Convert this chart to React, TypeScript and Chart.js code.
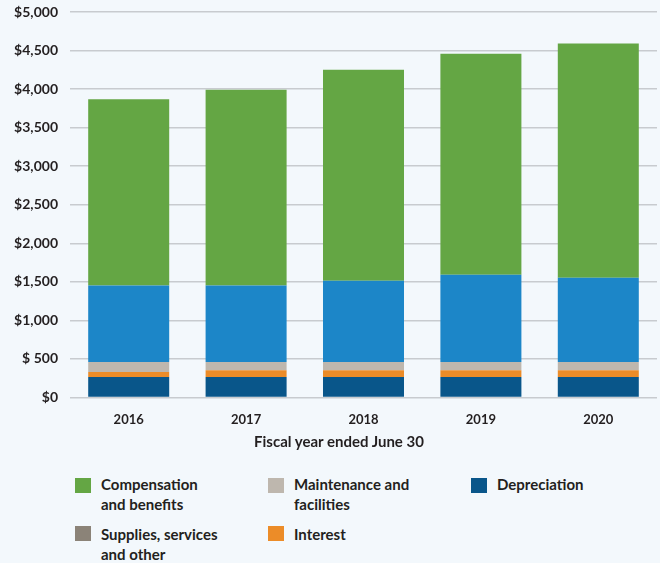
import React, { useEffect, useRef } from "react";
import { Chart, registerables } from "chart.js";

Chart.register(...registerables);

const years = ["2016", "2017", "2018", "2019", "2020"];
const depreciation = [265, 265, 265, 265, 265];
const interest = [65, 90, 90, 90, 90];
const maintenance = [130, 105, 105, 105, 105];
const supplies = [994, 994, 1053, 1131, 1092];
const compensation = [2413, 2539, 2737, 2867, 3039];

const yTicks = [0, 500, 1000, 1500, 2000, 2500, 3000, 3500, 4000, 4500, 5000];
const xTitle = "Fiscal year ended June 30";

const seriesNames = [
  "Depreciation",
  "Interest",
  "Maintenance and facilities",
  "Supplies, services and other",
  "Compensation and benefits",
];
const barColors = ["#09568a", "#ec8c28", "#beb7ae", "#1c86c8", "#64a644"];

// legend: order, label lines, swatch colour
const legendLabels = [
  ["Compensation", "and benefits"],
  ["Maintenance and", "facilities"],
  ["Depreciation"],
  ["Supplies, services", "and other"],
  ["Interest"],
];
const legendColors = ["#64a644", "#beb7ae", "#09568a", "#8b8378", "#ec8c28"];

const FONT = "Lato, 'Open Sans', sans-serif";
const TEXT = "#231f20";

export default function App() {
  const ref = useRef<HTMLCanvasElement | null>(null);

  useEffect(() => {
    document.body.style.margin = "0";
    const values = [depreciation, interest, maintenance, supplies, compensation];
    const chart = new Chart(ref.current as HTMLCanvasElement, {
      type: "bar",
      data: {
        labels: years,
        datasets: values.map((v, i) => ({
          label: seriesNames[i],
          data: v,
          backgroundColor: barColors[i],
          borderWidth: 0,
          barPercentage: 0.69,
          categoryPercentage: 1,
        })),
      },
      options: {
        animation: false,
        responsive: true,
        maintainAspectRatio: false,
        layout: { padding: { top: 12, right: 3, left: 0, bottom: 0 } },
        plugins: { legend: { display: false }, tooltip: { enabled: false } },
        scales: {
          x: {
            stacked: true,
            grid: { display: false },
            border: { display: false },
            ticks: {
              color: TEXT,
              padding: 7,
              font: { family: FONT, size: 13, weight: "bold" },
            },
            afterFit: (s: any) => {
              s.height = 42.5;
            },
          },
          y: {
            stacked: true,
            min: 0,
            max: 5000,
            afterBuildTicks: (s: any) => {
              s.ticks = yTicks.map((v) => ({ value: v }));
            },
            grid: { color: "#c8cbcf", lineWidth: 1.5, drawTicks: false },
            border: { display: false },
            ticks: {
              color: TEXT,
              padding: 12,
              font: { family: FONT, size: 14, weight: "bold" },
              callback: (v: any) => {
                const n = Number(v);
                if (n === 0) return "$0";
                if (n === 500) return "$ 500";
                return "$" + n.toLocaleString("en-US");
              },
            },
            afterFit: (s: any) => {
              s.width = 70;
              s.paddingTop = 0;
              s.paddingBottom = 0;
            },
          },
        },
      },
    });
    return () => chart.destroy();
  }, []);

  const colX = [75, 268, 471];
  const rowY = [478, 526];
  const textOff = [-4, -2];

  return (
    <div
      style={{
        position: "fixed",
        left: 0,
        top: 0,
        width: 660,
        height: 563,
        background: "#f3f8fc",
        fontFamily: FONT,
        color: TEXT,
        overflow: "hidden",
      }}
    >
      <div style={{ position: "absolute", left: 0, top: 0, width: 660, height: 440 }}>
        <canvas ref={ref} />
      </div>
      <div
        style={{
          position: "absolute",
          left: 189,
          top: 431,
          width: 300,
          textAlign: "center",
          fontSize: 15,
          fontWeight: 700,
          lineHeight: "20px",
        }}
      >
        {xTitle}
      </div>
      {legendLabels.map((lines, i) => {
        const x = colX[i % 3];
        const r = Math.floor(i / 3);
        const y = rowY[r];
        return (
          <div key={i}>
            <div
              style={{
                position: "absolute",
                left: x,
                top: y,
                width: 16,
                height: 15,
                background: legendColors[i],
              }}
            />
            <div
              style={{
                position: "absolute",
                left: x + 26,
                top: y + textOff[r],
                fontSize: 15,
                fontWeight: 700,
                lineHeight: "20px",
                whiteSpace: "nowrap",
              }}
            >
              {lines.map((l, j) => (
                <div key={j}>{l}</div>
              ))}
            </div>
          </div>
        );
      })}
    </div>
  );
}
